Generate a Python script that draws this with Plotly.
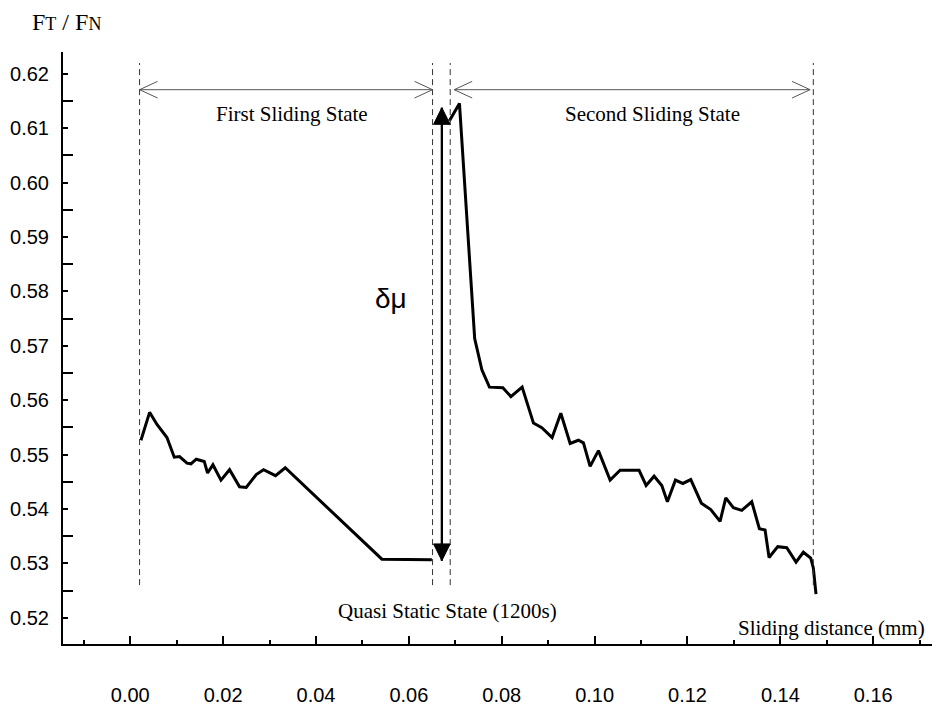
import plotly.graph_objects as go

# ---- data ----
first_x = [0.00230, 0.00416, 0.00575, 0.00790, 0.00947, 0.01061, 0.01221, 0.01307,
           0.01421, 0.01593, 0.01664, 0.01780, 0.01953, 0.02138, 0.02353, 0.02497,
           0.02713, 0.02870, 0.03128, 0.03337, 0.05419, 0.06495]
first_y = [0.55264, 0.55777, 0.55553, 0.55313, 0.54952, 0.54964, 0.54843, 0.54830,
           0.54915, 0.54874, 0.54662, 0.54812, 0.54530, 0.54722, 0.54409, 0.54396,
           0.54632, 0.54722, 0.54613, 0.54758, 0.53077, 0.53066]

second_x = [0.06874, 0.07089, 0.07417, 0.07572, 0.07735, 0.08024, 0.08196, 0.08439,
            0.08683, 0.08863, 0.09085, 0.09272, 0.09473, 0.09651, 0.09759, 0.09903,
            0.10082, 0.10334, 0.10549, 0.10958, 0.11109, 0.11281, 0.11447, 0.11567,
            0.11740, 0.11899, 0.12071, 0.12299, 0.12502, 0.12702, 0.12825, 0.12988,
            0.13169, 0.13384, 0.13548, 0.13671, 0.13757, 0.13944, 0.14138, 0.14338,
            0.14495, 0.14655, 0.14710, 0.14768]
second_y = [0.61138, 0.61458, 0.57133, 0.56560, 0.56240, 0.56229, 0.56067, 0.56240,
            0.55579, 0.55494, 0.55313, 0.55759, 0.55204, 0.55264, 0.55217, 0.54783,
            0.55072, 0.54530, 0.54711, 0.54711, 0.54433, 0.54603, 0.54433, 0.54133,
            0.54530, 0.54469, 0.54541, 0.54107, 0.53988, 0.53771, 0.54205, 0.54024,
            0.53975, 0.54133, 0.53637, 0.53614, 0.53108, 0.53307, 0.53289, 0.53023,
            0.53204, 0.53095, 0.52915, 0.52434]

x_tick_vals = [0.00, 0.02, 0.04, 0.06, 0.08, 0.10, 0.12, 0.14, 0.16]
x_tick_text = ["0.00", "0.02", "0.04", "0.06", "0.08", "0.10", "0.12", "0.14", "0.16"]
y_tick_vals = [0.52, 0.53, 0.54, 0.55, 0.56, 0.57, 0.58, 0.59, 0.60, 0.61, 0.62]
y_tick_text = ["0.52", "0.53", "0.54", "0.55", "0.56", "0.57", "0.58", "0.59", "0.60", "0.61", "0.62"]

# region boundaries (dashed lines) and annotation levels
boundary_x = [0.0020, 0.0651, 0.0689, 0.1471]
boundary_y = [0.5260, 0.6220]
state_arrow_y = 0.6171
first_state = (0.0020, 0.0651)
second_state = (0.06975, 0.1464)
dmu_x = 0.0671
dmu_y = (0.5305, 0.6138)

X_RANGE = [-0.01449, 0.17266]
Y_RANGE = [0.51517, 0.62403]

SERIF = "Liberation Serif"
SANS = "Liberation Sans"

fig = go.Figure()
for xs, ys in [(first_x, first_y), (second_x, second_y)]:
    fig.add_trace(go.Scatter(x=xs, y=ys, mode="lines",
                             line=dict(color="black", width=3),
                             showlegend=False, hoverinfo="skip"))

shapes = []
for bx in boundary_x:
    shapes.append(dict(type="line", xref="x", yref="y", x0=bx, x1=bx,
                       y0=boundary_y[0], y1=boundary_y[1],
                       line=dict(color="#333333", width=1, dash="6px,4px")))

ARROW_GRAY = "#555555"
for (a, b) in [first_state, second_state]:
    shapes.append(dict(type="line", xref="x", yref="y", x0=a, x1=b,
                       y0=state_arrow_y, y1=state_arrow_y,
                       line=dict(color=ARROW_GRAY, width=1)))
    shapes.append(dict(type="path", xref="x", yref="y", xsizemode="pixel", ysizemode="pixel",
                       xanchor=a, yanchor=state_arrow_y,
                       path="M 18,8.3 L 0,0 L 18,-8.3",
                       line=dict(color=ARROW_GRAY, width=1)))
    shapes.append(dict(type="path", xref="x", yref="y", xsizemode="pixel", ysizemode="pixel",
                       xanchor=b, yanchor=state_arrow_y,
                       path="M -18,8.3 L 0,0 L -18,-8.3",
                       line=dict(color=ARROW_GRAY, width=1)))

# delta-mu double arrow
shapes.append(dict(type="line", xref="x", yref="y", x0=dmu_x, x1=dmu_x,
                   y0=dmu_y[0], y1=dmu_y[1], line=dict(color="black", width=2.3)))
shapes.append(dict(type="path", xref="x", yref="y", xsizemode="pixel", ysizemode="pixel",
                   xanchor=dmu_x, yanchor=dmu_y[1],
                   path="M 0,0 L -8.3,-16.7 L 8.3,-16.7 Z",
                   fillcolor="black", line=dict(color="black", width=1)))
shapes.append(dict(type="path", xref="x", yref="y", xsizemode="pixel", ysizemode="pixel",
                   xanchor=dmu_x, yanchor=dmu_y[0],
                   path="M 0,0 L -8.3,16.7 L 8.3,16.7 Z",
                   fillcolor="black", line=dict(color="black", width=1)))

annotations = [
    dict(text="First Sliding State", x=0.03488, y=0.61259, xref="x", yref="y",
         showarrow=False, font=dict(family=SERIF, size=21, color="black")),
    dict(text="Second Sliding State", x=0.11238, y=0.61259, xref="x", yref="y",
         showarrow=False, font=dict(family=SERIF, size=21, color="black")),
    dict(text="δμ", x=0.05619, y=0.57870, xref="x", yref="y",
         showarrow=False, font=dict(family=SANS, size=28, color="black")),
    dict(text="Quasi Static State (1200s)", x=0.06825, y=0.52132, xref="x", yref="y",
         showarrow=False, font=dict(family=SERIF, size=21, color="black")),
    dict(text="Sliding distance (mm)", x=0.17158, y=0.51815, xref="x", yref="y",
         xanchor="right", showarrow=False, font=dict(family=SERIF, size=21, color="black")),
    dict(text="F<span style='font-size:18px'>T</span> / F<span style='font-size:18px'>N</span>",
         x=-0.0376, y=1.051, xref="paper", yref="paper", xanchor="left", yanchor="middle",
         showarrow=False, font=dict(family=SERIF, size=24, color="black")),
]

fig.update_layout(
    width=932, height=706, autosize=False,
    margin=dict(l=63, r=0, t=52, b=52),
    plot_bgcolor="white", paper_bgcolor="white",
    shapes=shapes, annotations=annotations,
    xaxis=dict(range=X_RANGE, showgrid=False, zeroline=False,
               showline=True, linecolor="black", linewidth=2,
               tickmode="array", tickvals=x_tick_vals, ticktext=x_tick_text,
               ticks="inside", ticklen=8, tickwidth=2, tickcolor="black",
               ticklabelstandoff=32,
               tickfont=dict(family=SANS, size=20, color="black"),
               minor=dict(dtick=0.01, tick0=0, ticks="inside", ticklen=4,
                          tickwidth=1.5, tickcolor="black", showgrid=False)),
    yaxis=dict(range=Y_RANGE, showgrid=False, zeroline=False,
               showline=True, linecolor="black", linewidth=2,
               tickmode="array", tickvals=y_tick_vals, ticktext=y_tick_text,
               ticks="inside", ticklen=5, tickwidth=1.5, tickcolor="black",
               ticklabelstandoff=8,
               tickfont=dict(family=SANS, size=20, color="black"),
               minor=dict(dtick=0.01, tick0=0.515, ticks="inside", ticklen=10,
                          tickwidth=2, tickcolor="black", showgrid=False)),
)

fig.write_html("out.html")
